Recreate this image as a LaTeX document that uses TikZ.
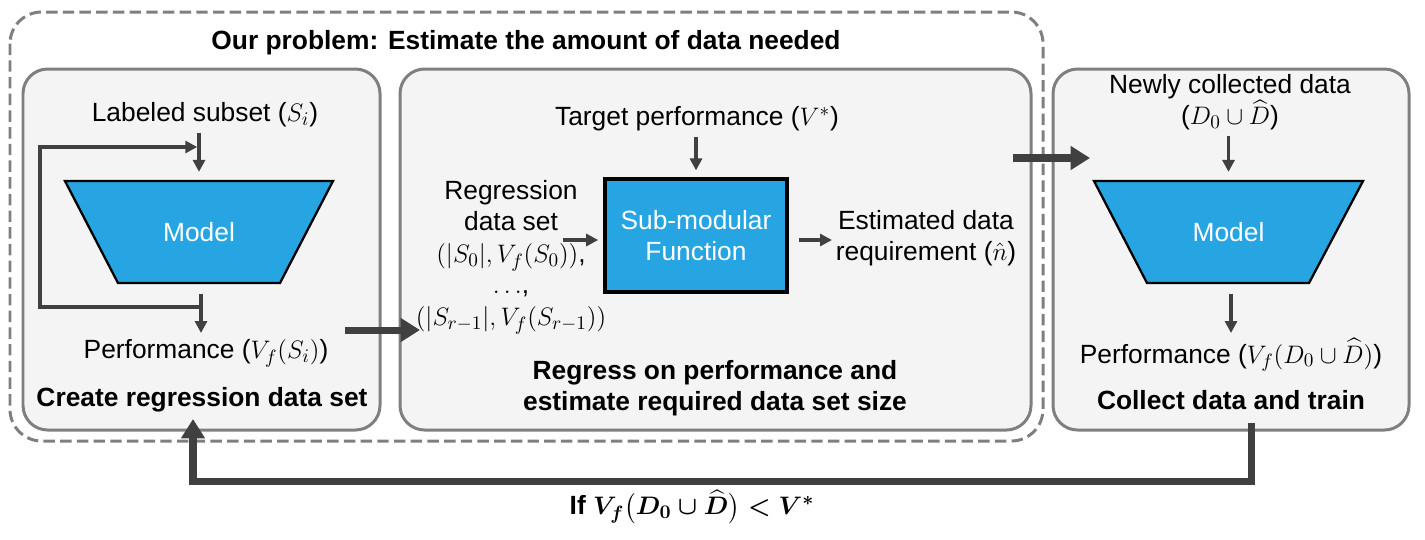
\documentclass[tikz,border=0pt]{standalone}
\usepackage{amsmath}
\usepackage{fontspec}
\setmainfont{Liberation Sans}
\usetikzlibrary{arrows.meta}
\definecolor{boxgray}{HTML}{7F7F7F}
\definecolor{boxfill}{HTML}{F4F4F4}
\definecolor{mblue}{HTML}{27A5E3}
\definecolor{arr}{HTML}{404040}
\begin{document}
\begin{tikzpicture}[x=0.02cm,y=-0.02cm,
  font=\fontsize{15}{18}\selectfont,
  panel/.style={draw=boxgray, fill=boxfill, line width=1.7pt, rounded corners=14pt},
  outerbox/.style={draw=boxgray, line width=1.7pt, dash pattern=on 6.5pt off 3pt, rounded corners=18pt},
  thinarrow/.style={draw=arr, line width=1.8pt, -{Triangle[length=6.8pt,width=6.8pt]}},
  thickarrow/.style={draw=arr, line width=4pt, -{Triangle[length=11pt,width=13pt]}},
  ttl/.style={font=\fontsize{15}{18}\selectfont\bfseries, align=center, inner sep=0pt},
  lbl/.style={align=center, inner sep=0pt},
  modelshape/.style={fill=mblue, draw=black, line width=1.3pt},
  modeltext/.style={text=white, inner sep=0pt, minimum width=3.2cm, minimum height=2.04cm}
]
\useasboundingbox (0,0) rectangle (1425,539);

% outer dashed region and panels
\draw[outerbox] (10,12) rectangle (1043,441);
\node[ttl] (title) at (526,43) {Our problem: Estimate the amount of data needed};
\draw[panel] (23,69) rectangle (380,430);
\draw[panel] (400,69) rectangle (1031,430);
\draw[panel] (1053,69) rectangle (1409,430);

% ---------- left panel ----------
\node[lbl] (lab1) at (205,115) {Labeled subset ($S_i$)};
\draw[modelshape] (65,181) -- (333,181) -- (280,283) -- (118,283) -- cycle;
\node[modeltext] (m1) at (199,232) {Model};
\node[lbl] (perf1) at (206,353) {Performance ($V_f(S_i)$)};
\node[ttl] (ttl1) at (202,400) {Create regression data set};
\draw[thinarrow, shorten <=3pt, shorten >=5pt] (lab1.south -| m1.north) -- (m1.north);
\coordinate (loopb) at (201,307);
\coordinate (loopt) at (199,147);
\draw[thinarrow] (loopb) -- (40,307) -- (40,147) -- ([xshift=-1pt]loopt);
\coordinate (p1top) at (201,333);
\draw[thinarrow, shorten <=6pt] (m1.south -| p1top) -- (p1top);

% ---------- middle panel ----------
\node[lbl] (tgt) at (697,119) {Target performance ($V^*$)};
\node[draw=black, fill=mblue, line width=1.8pt, minimum width=3.64cm, minimum height=2.26cm,
      text=white, align=center, inner sep=0pt] (sm) at (696,235.5) {Sub-modular\\Function};
\draw[thinarrow, shorten <=3pt, shorten >=4pt] (tgt.south -| sm.north) -- (sm.north);
\node[lbl] (reg) at (511,257) {Regression\\data set\\$(|S_0|,V_f(S_0))$,\\$\ldots$,\\$(|S_{r-1}|,V_f(S_{r-1}))$};
\coordinate (rin) at (563,240);
\draw[thinarrow, shorten >=3pt] (rin) -- (rin -| sm.west);
\node[lbl] (est) at (926,238) {Estimated data\\requirement ($\hat{n}$)};
\draw[thinarrow, shorten <=6pt, shorten >=2pt] (sm.east |- 0,240) -- (est.west |- 0,240);
\node[ttl] (ttl2) at (715,388) {Regress on performance and\\estimate required data set size};

% ---------- right panel ----------
\node[lbl] (new) at (1230,102) {Newly collected data\\($D_0\cup\widehat{D}$)};
\draw[modelshape] (1094,181) -- (1363,181) -- (1309,283) -- (1147,283) -- cycle;
\node[modeltext] (m2) at (1228.5,232) {Model};
\node[lbl] (perf2) at (1231,355) {Performance ($V_f(D_0\cup\widehat{D})$)};
\node[ttl] (ttl3) at (1231,400) {Collect data and train};
\draw[thinarrow, shorten <=3pt, shorten >=5pt] (new.south -| m2.north) -- (m2.north);
\coordinate (p2top) at (1231,333);
\draw[thinarrow, shorten <=6pt] (m2.south -| p2top) -- (p2top);

% ---------- connections between panels ----------
\coordinate (a1s) at (345,330);
\coordinate (a1e) at (420,330);
\draw[thickarrow] (a1s) -- (a1e);
\coordinate (a2s) at (1013,158);
\coordinate (a2e) at (1090,158);
\draw[thickarrow] (a2s) -- (a2e);

% feedback loop
\coordinate (fbs) at (1251,423);
\coordinate (fbe) at (193,419);
\draw[thickarrow] (fbs) -- (1251,481) -- (193,481) -- (fbe);
\node[inner sep=0pt] (cond) at (692,507) {{\bfseries If} $\boldsymbol{V_f\bigl(D_0\cup\widehat{D}\bigr)<V^{*}}$};
\end{tikzpicture}
\end{document}
